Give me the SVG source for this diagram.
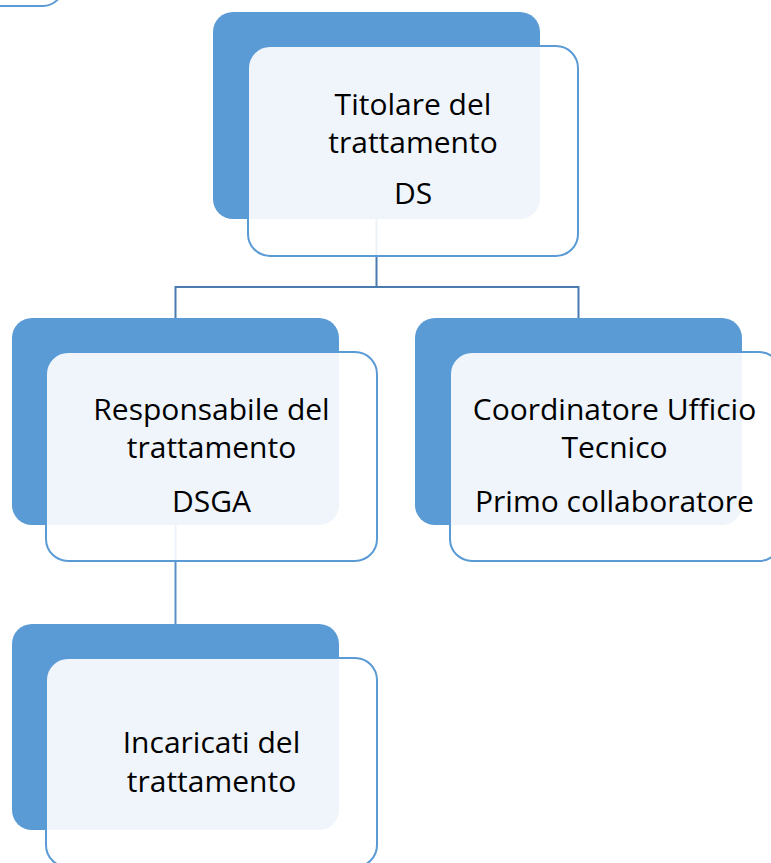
<svg xmlns="http://www.w3.org/2000/svg" width="771" height="863" viewBox="0 0 771 863">
<style>
.back{fill:#5b9bd5;}
.front{fill:#ffffff;fill-opacity:0.9;stroke:#5b9bd5;stroke-width:2;}
.conn{fill:none;stroke:#4a7bb0;stroke-width:2;}
.conn2{fill:none;stroke:#5a90c8;stroke-width:2;}
.t{font-family:"Open Sans","Noto Sans",sans-serif;font-size:30px;fill:#000000;text-anchor:middle;}
</style>
<rect width="771" height="863" fill="#ffffff"/>
<g id="fragment">
<rect x="-270" y="-200" width="333" height="206" rx="20" ry="20" class="front"/>
</g>
<g id="backs">
<rect x="213" y="12" width="327" height="207" rx="20" ry="20" class="back"/>
<rect x="12" y="318" width="327" height="207" rx="20" ry="20" class="back"/>
<rect x="415" y="318" width="327" height="207" rx="20" ry="20" class="back"/>
<rect x="12" y="624" width="327" height="206" rx="20" ry="20" class="back"/>
</g>
<g id="connectors">
<path class="conn" d="M376.5,219 V287 H175.5 V318"/>
<path class="conn" d="M376.5,287 H578.5 V318"/>
<path class="conn2" d="M175.5,525 V624"/>
</g>
<g id="titolare">
<rect x="248" y="46" width="330" height="210" rx="22" ry="22" class="front"/>
<text class="t" x="413" y="115">Titolare del</text>
<text class="t" x="413" y="153">trattamento</text>
<text class="t" x="413" y="204">DS</text>
</g>
<g id="responsabile">
<rect x="46" y="352" width="331" height="209" rx="22" ry="22" class="front"/>
<text class="t" x="211.5" y="420">Responsabile del</text>
<text class="t" x="211.5" y="458">trattamento</text>
<text class="t" x="211.5" y="512">DSGA</text>
</g>
<g id="coordinatore">
<rect x="450" y="352" width="331" height="209" rx="22" ry="22" class="front"/>
<text class="t" x="614.5" y="420">Coordinatore Ufficio</text>
<text class="t" x="614.5" y="458">Tecnico</text>
<text class="t" x="614.5" y="512">Primo collaboratore</text>
</g>
<g id="incaricati">
<rect x="46" y="658" width="331" height="209" rx="22" ry="22" class="front"/>
<text class="t" x="211.5" y="753">Incaricati del</text>
<text class="t" x="211.5" y="792">trattamento</text>
</g>
</svg>
